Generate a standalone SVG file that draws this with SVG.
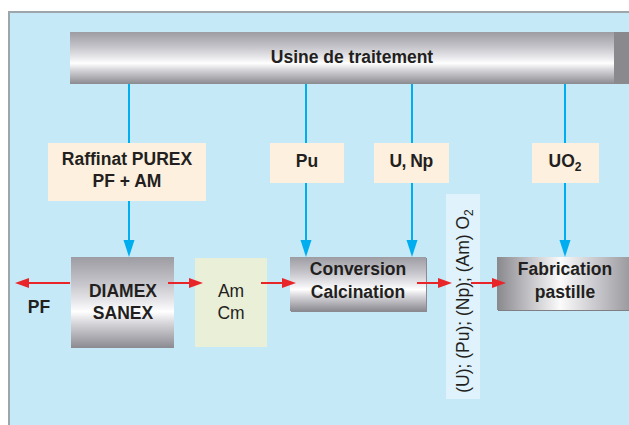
<svg xmlns="http://www.w3.org/2000/svg" width="629" height="425" viewBox="0 0 629 425">
<style>
  .t { font-family: "Liberation Sans", Arial, sans-serif; fill: #231F20; }
  .b { font-weight: bold; font-size: 17.5px; text-anchor: middle; }
  .r { font-size: 17.5px; text-anchor: middle; }
  .lab { fill: #FDF0DF; }
  .blue { stroke: #00AEEF; stroke-width: 2; fill: none; }
  .red { stroke: #E8262A; stroke-width: 2; fill: none; }
  .bh { fill: #00AEEF; }
  .rh { fill: #E8262A; }
</style>
<defs>
  <linearGradient id="gv" x1="0" y1="0" x2="0" y2="1">
    <stop offset="0" stop-color="#9C9CA2"/>
    <stop offset="0.3" stop-color="#C6C6CC"/>
    <stop offset="0.52" stop-color="#EEEEF1"/>
    <stop offset="0.6" stop-color="#FFFFFF"/>
    <stop offset="0.75" stop-color="#CFCFD4"/>
    <stop offset="1" stop-color="#8A8A90"/>
  </linearGradient>
  <linearGradient id="gh" x1="0" y1="0" x2="1" y2="0">
    <stop offset="0" stop-color="#88888D"/>
    <stop offset="0.25" stop-color="#C4C4C8"/>
    <stop offset="0.48" stop-color="#FBFBFB"/>
    <stop offset="0.7" stop-color="#D2D2D6"/>
    <stop offset="1" stop-color="#9C9CA0"/>
  </linearGradient>
</defs>

<!-- background panel -->
<rect x="0" y="0" width="629" height="425" fill="#FFFFFF"/>
<rect x="9" y="12" width="620" height="413" fill="#C6E9F8"/>
<rect x="9" y="11" width="620" height="2" fill="#9DA6AB"/>
<rect x="8" y="11" width="2" height="414" fill="#9DA6AB"/>

<!-- connectors -->
<g id="connectors">
  <line class="blue" x1="129" y1="84" x2="129" y2="244"/>
  <polygon class="bh" points="123.5,240 134.5,240 129,257"/>
  <line class="blue" x1="306" y1="84" x2="306" y2="244"/>
  <polygon class="bh" points="300.5,240 311.5,240 306,257"/>
  <line class="blue" x1="412" y1="84" x2="412" y2="244"/>
  <polygon class="bh" points="406.5,240 417.5,240 412,257"/>
  <line class="blue" x1="565" y1="84" x2="565" y2="244"/>
  <polygon class="bh" points="559.5,240 570.5,240 565,257"/>
</g>

<!-- top bar -->
<g id="usine">
  <rect x="614" y="32" width="15" height="52" fill="#8A8A8E"/>
  <rect x="70" y="32" width="544" height="52" fill="url(#gv)"/>
  <text class="t b" x="352" y="63">Usine de traitement</text>
</g>

<g id="raffinat">
  <rect class="lab" x="48" y="143" width="158" height="58"/>
  <text class="t b" x="127" y="165">Raffinat PUREX</text>
  <text class="t b" x="127" y="187">PF + AM</text>
</g>

<g id="pu">
  <rect class="lab" x="270" y="143" width="74" height="40"/>
  <text class="t b" x="307" y="167">Pu</text>
</g>

<g id="unp">
  <rect class="lab" x="374" y="143" width="75" height="40"/>
  <text class="t b" x="411" y="167" letter-spacing="-0.5">U, Np</text>
</g>

<g id="uo2">
  <rect class="lab" x="532" y="143" width="67" height="40"/>
  <text class="t b" x="565" y="167">UO<tspan font-size="12" dy="4">2</tspan></text>
</g>

<g id="diamex">
  <rect x="71" y="257" width="103" height="91" fill="url(#gv)"/>
  <text class="t b" x="123" y="297">DIAMEX</text>
  <text class="t b" x="123" y="319">SANEX</text>
</g>

<g id="pf">
  <text class="t b" x="39" y="313">PF</text>
</g>

<g id="amcm">
  <rect x="195" y="258" width="72" height="89" fill="#EAEFD8"/>
  <text class="t r" x="231" y="297">Am</text>
  <text class="t r" x="231" y="319">Cm</text>
</g>

<g id="conversion">
  <rect x="291" y="258" width="136" height="54" fill="#8A8A90"/>
  <rect x="290" y="257" width="136" height="54" fill="url(#gv)"/>
  <text class="t b" x="358" y="275">Conversion</text>
  <text class="t b" x="358" y="298">Calcination</text>
</g>

<g id="oxyde">
  <rect x="446" y="194" width="34" height="205" fill="#E0F2FB"/>
  <text class="t r" transform="translate(469,301) rotate(-90)">(U); (Pu); (Np); (Am) O<tspan font-size="12" dy="4">2</tspan></text>
</g>

<g id="fabrication">
  <rect x="498" y="258" width="131" height="53" fill="#7E7E84"/>
  <rect x="497" y="257" width="132" height="53" fill="url(#gh)"/>
  <text class="t b" x="565" y="275">Fabrication</text>
  <text class="t b" x="565" y="298">pastille</text>
</g>

<!-- red flow arrows -->
<g id="flow">
  <line class="red" x1="70" y1="283" x2="26" y2="283"/>
  <polygon class="rh" points="15,283 29,278 29,288"/>
  <line class="red" x1="168" y1="283" x2="192" y2="283"/>
  <polygon class="rh" points="203,283 189,278 189,288"/>
  <line class="red" x1="261" y1="283" x2="285" y2="283"/>
  <polygon class="rh" points="296,283 282,278 282,288"/>
  <line class="red" x1="417" y1="283" x2="441" y2="283"/>
  <polygon class="rh" points="452,283 438,278 438,288"/>
  <line class="red" x1="471" y1="283" x2="495" y2="283"/>
  <polygon class="rh" points="506,283 492,278 492,288"/>
</g>
</svg>
